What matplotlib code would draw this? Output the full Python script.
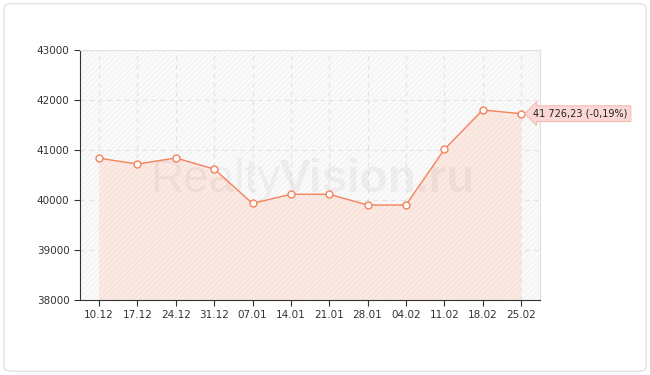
import matplotlib
matplotlib.use('Agg')
from matplotlib import pyplot as plt
from matplotlib.patches import FancyBboxPatch

dates = ['10.12', '17.12', '24.12', '31.12', '07.01', '14.01',
         '21.01', '28.01', '04.02', '11.02', '18.02', '25.02']
values = [40835, 40720, 40840, 40620, 39930, 40115,
          40115, 39900, 39900, 41010, 41800, 41726.23]
last_label = '41 726,23 (-0,19%)'

plt.rcParams['hatch.linewidth'] = 0.5

fig = plt.figure(figsize=(6.5, 3.75), dpi=100)

# outer rounded frame
frame = FancyBboxPatch((0.006, 0.01), 0.988, 0.98, boxstyle='round,pad=0,rounding_size=0.012',
                       transform=fig.transFigure, fc='none', ec='#e2e2e2', lw=1, zorder=-1)
fig.patches.append(frame)

ax = fig.add_axes([0.123, 0.2, 0.708, 0.6667])
ax.set_facecolor('#fafafa')
ax.patch.set_hatch('//////')
ax.patch.set_edgecolor('#eeeeee')

x = list(range(len(dates)))

ax.fill_between(x, values, 38000, facecolor='#fbe9e3', edgecolor='#f6dcd3',
                hatch='//////', lw=0, zorder=1)
ax.plot(x, values, color='#f4835c', lw=1, marker='o', ms=5,
        mfc='white', mec='#f4835c', mew=1, zorder=3)

ax.set_xlim(-0.5, len(dates) - 0.5)
ax.set_ylim(38000, 43000)
ax.set_yticks([38000, 39000, 40000, 41000, 42000, 43000])
ax.set_xticks(x)
ax.set_xticklabels(dates)
ax.grid(True, color='#e2e2e2', ls=(0, (4, 4)), lw=0.8, zorder=0)
ax.set_axisbelow(True)

for s in ['top', 'right']:
    ax.spines[s].set_color('#e0e0e0')
for s in ['left', 'bottom']:
    ax.spines[s].set_color('#333333')
ax.tick_params(labelsize=7.5, colors='#333333', length=4, width=0.8)
ax.tick_params(axis='x', pad=3)

# watermark
ax.text(0.435, 0.432, 'Realty', transform=ax.transAxes, fontsize=33, family='Liberation Sans',
        color='#000000', alpha=0.045, ha='right', va='baseline', zorder=2)
ax.text(0.435, 0.432, 'Vision.ru', transform=ax.transAxes, fontsize=33, family='Liberation Sans',
        fontweight='bold', color='#000000', alpha=0.045, ha='left', va='baseline', zorder=2)

ax.annotate(last_label, xy=(x[-1], values[-1]), xytext=(9, 0), textcoords='offset points',
            fontsize=7, color='#222222', va='center', ha='left', annotation_clip=False,
            bbox=dict(boxstyle='larrow,pad=0.3', fc='#fbd8d5', ec='#f4bdb6', lw=0.8))

fig.savefig('out.png', dpi=100)
